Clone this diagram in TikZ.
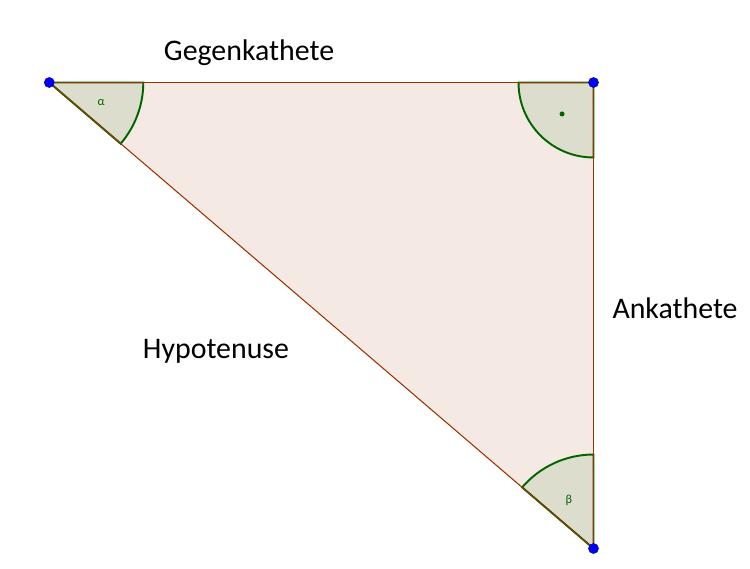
\documentclass[tikz,border=0pt]{standalone}
\usepackage{fontspec}
\setmainfont{Carlito}
\usetikzlibrary{positioning}
\definecolor{trifill}{RGB}{245,233,228}
\definecolor{legline}{RGB}{153,51,0}
\definecolor{wedgefill}{RGB}{221,221,206}
\definecolor{wedgeline}{RGB}{0,100,0}
\definecolor{ptblue}{RGB}{0,0,255}
\begin{document}
\begin{tikzpicture}[x=0.02cm,y=0.02cm,
pt/.style={circle, draw=ptblue!60!black, line width=0.3pt, fill=ptblue, inner sep=0pt, minimum size=0.2cm},
leg/.style={draw=legline, line width=0.6pt},
wedge/.style={fill=wedgefill, draw=wedgeline, line width=1.1pt},
lbl/.style={anchor=base, inner sep=0pt, font=\fontsize{17}{20}\selectfont},
glbl/.style={text=wedgeline, inner sep=0pt, font=\fontsize{7}{8}\selectfont}]
\useasboundingbox (0,0) rectangle (750,568);
\coordinate (A) at (49.3,485.5);
\coordinate (B) at (593.5,485.5);
\coordinate (C) at (593.5,19.5);
% triangle
\fill[trifill] (A)--(B)--(C)--cycle;
% angles
\draw[wedge] (A)--++(0:1.88cm) arc[start angle=0, end angle=-40.6, radius=1.88cm]--cycle;
\draw[wedge] (B)--++(180:1.5cm) arc[start angle=180, end angle=270, radius=1.5cm]--cycle;
\draw[wedge] (C)--++(90:1.88cm) arc[start angle=90, end angle=139.4, radius=1.88cm]--cycle;
\fill[wedgeline] (B)++(225:0.89cm) circle (0.05cm);
\node[glbl] (alpha) at (101,465) {α};
\node[glbl] (beta) at (569,68) {β};
% sides
\draw[leg] (A)--(B);
\draw[leg] (B)--(C);
\draw[leg] (C)--(A);
\node[pt] (pA) at (A) {};
\node[pt] (pB) at (B) {};
\node[pt] (pC) at (C) {};
\node[lbl] (geg) at (249,507.3) {Gegenkathete};
\node[lbl] (ank) at (675,249.7) {Ankathete};
\node[lbl] (hyp) at (216,209.3) {Hypotenuse};
\end{tikzpicture}
\end{document}
